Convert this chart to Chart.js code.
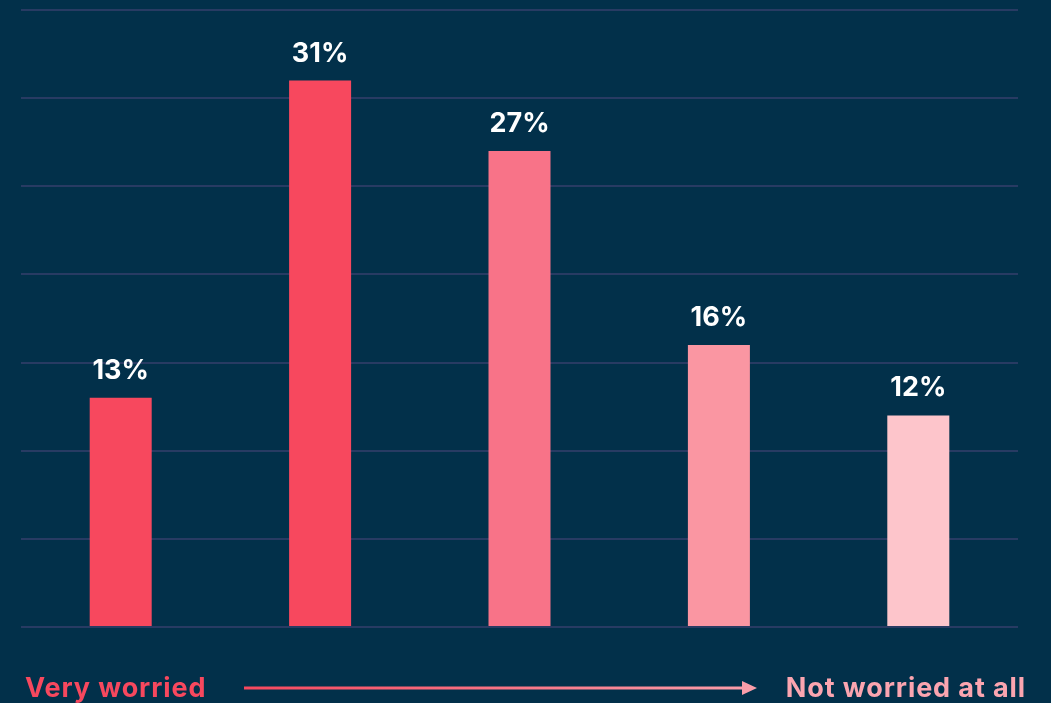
<!DOCTYPE html>
<html>
<head>
<meta charset="utf-8">
<script src="https://cdn.jsdelivr.net/npm/chart.js@4.4.0/dist/chart.umd.min.js"></script>
<style>
  html, body { margin: 0; padding: 0; background: #02304a; }
  #wrap { width: 1051px; height: 703px; position: relative; }
</style>
</head>
<body>
<div id="wrap"><canvas id="myChart"></canvas></div>
<script>
const categories = ["Very worried", "2", "3", "4", "Not worried at all"];
const shares = [13, 31, 27, 16, 12];
const barColors = ["#f7485e", "#f7485e", "#f87388", "#fa96a2", "#fdc5cb"];
const scaleLabels = ["Very worried", "Not worried at all"];

const FONT = "Inter, 'Open Sans', sans-serif";

// percentage above each bar
const valueLabels = {
  id: "valueLabels",
  afterDatasetsDraw(chart) {
    const ctx = chart.ctx;
    const meta = chart.getDatasetMeta(0);
    ctx.save();
    ctx.fillStyle = "#ffffff";
    ctx.font = "700 27px " + FONT;
    ctx.textAlign = "center";
    ctx.textBaseline = "alphabetic";
    meta.data.forEach((bar, i) => {
      ctx.fillText(shares[i] + "%", bar.x, bar.y - 19);
    });
    ctx.restore();
  },
};

// scale ends and the arrow underneath the bars
const scaleArrow = {
  id: "scaleArrow",
  afterDraw(chart) {
    const ctx = chart.ctx;
    const y = 688;
    ctx.save();
    ctx.font = "700 27px " + FONT;
    ctx.letterSpacing = "0.9px";
    ctx.textBaseline = "alphabetic";
    ctx.textAlign = "left";
    ctx.fillStyle = "#f7485e";
    ctx.fillText(scaleLabels[0], 25, 697);
    ctx.textAlign = "right";
    ctx.fillStyle = "#fba5b0";
    ctx.fillText(scaleLabels[1], 1026, 697);
    ctx.letterSpacing = "0px";

    const x0 = 244, x1 = 757;
    const grad = ctx.createLinearGradient(x0, 0, x1, 0);
    grad.addColorStop(0, "#f7485e");
    grad.addColorStop(1, "#fa9fab");
    ctx.strokeStyle = grad;
    ctx.fillStyle = grad;
    ctx.lineWidth = 3;
    ctx.beginPath();
    ctx.moveTo(x0, y);
    ctx.lineTo(x1 - 12, y);
    ctx.stroke();
    ctx.beginPath();
    ctx.moveTo(x1, y);
    ctx.lineTo(x1 - 15, y - 7);
    ctx.lineTo(x1 - 15, y + 7);
    ctx.closePath();
    ctx.fill();
    ctx.restore();
  },
};

const config = {
  type: "bar",
  data: {
    labels: categories,
    datasets: [
      {
        data: shares,
        backgroundColor: barColors,
        borderWidth: 0,
        barPercentage: 0.311,
        categoryPercentage: 1,
      },
    ],
  },
  options: {
    responsive: true,
    maintainAspectRatio: false,
    animation: false,
    layout: { padding: { left: 21, right: 33, top: 10, bottom: 76 } },
    plugins: { legend: { display: false }, tooltip: { enabled: false } },
    scales: {
      x: { display: false },
      y: {
        min: 0,
        max: 35,
        ticks: { display: false, stepSize: 5 },
        grid: { color: "#283b63", lineWidth: 2, drawTicks: false },
        border: { display: false },
      },
    },
  },
  plugins: [valueLabels, scaleArrow],
};

const myChart = new Chart(document.getElementById("myChart"), config);
</script>
</body>
</html>
